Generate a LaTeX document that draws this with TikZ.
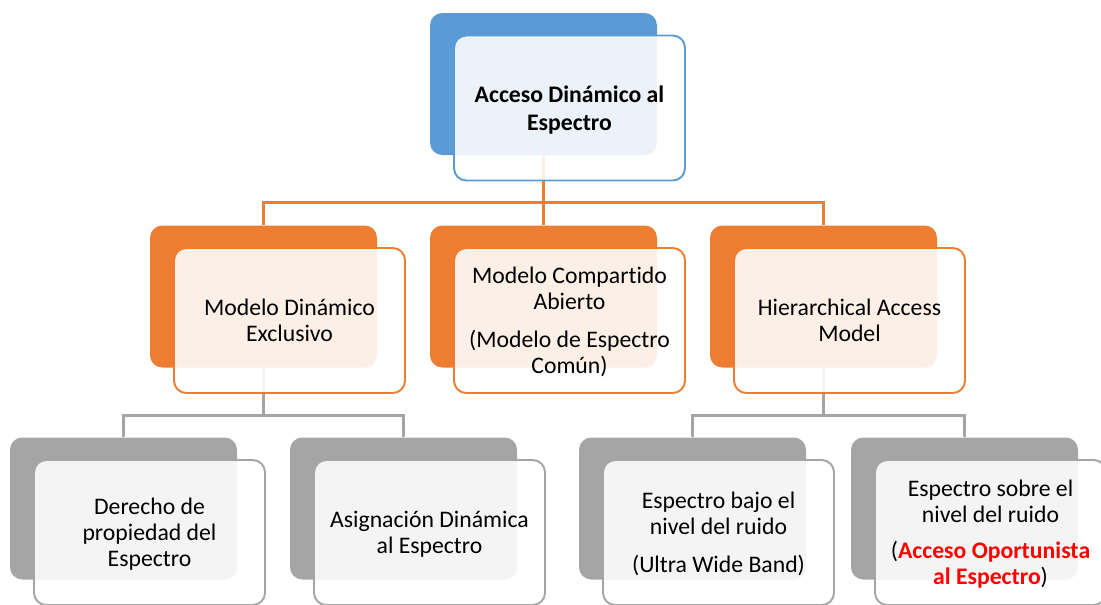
\documentclass[tikz,border=0pt]{standalone}
\usepackage{fontspec}
\setmainfont{Carlito}[Ligatures=NoCommon]
\usetikzlibrary{positioning}

\definecolor{accblue}{HTML}{5B9BD5}
\definecolor{accorange}{HTML}{ED7D31}
\definecolor{accgray}{HTML}{A5A5A5}
\definecolor{hlred}{HTML}{FF0000}

\begin{document}
\begin{tikzpicture}[
    % Back (coloured) box style
    backbox/.style={
        rectangle,
        rounded corners=7pt,
        minimum width=4.54cm,
        minimum height=2.84cm,
        inner sep=0pt
    },
    % Front (text) box style
    frontbox/.style={
        rectangle,
        rounded corners=7pt,
        line width=1.1pt,
        fill=white,
        fill opacity=0.88,
        text opacity=1,
        minimum width=4.62cm,
        minimum height=2.9cm,
        inner sep=0pt,
        text depth=0pt,
        align=center,
        font=\fontsize{13.5}{14.8}\selectfont
    },
    % Connector style
    link/.style={
        line width=1.4pt
    },
    % Offset of the front box
    shifted/.style={
        shift={(0.52,-0.48)}
    }
]

\useasboundingbox (0,0) rectangle (22.02,12.08);
\clip (0,0) rectangle (22.02,12.08);

% === Level 0: root ===
\node[backbox, fill=accblue] (root) at (10.87, 10.40) {};

% === Level 1: models ===
\node[backbox, fill=accorange] (mde) at (5.27, 6.15) {};
\node[backbox, fill=accorange] (mca) at (10.87, 6.15) {};
\node[backbox, fill=accorange] (ham) at (16.47, 6.15) {};

% === Level 2: sub-models ===
\node[backbox, fill=accgray] (dpe) at (2.47, 1.91) {};
\node[backbox, fill=accgray] (ade) at (8.07, 1.91) {};
\node[backbox, fill=accgray] (ebr) at (13.85, 1.91) {};
\node[backbox, fill=accgray] (esr) at (19.29, 1.91) {};

% === Connectors ===
\draw[link, accorange] (root.south) -- ++(0,-0.94) -| (mde.north);
\draw[link, accorange] (root.south) -- ++(0,-0.94) -| (mca.north);
\draw[link, accorange] (root.south) -- ++(0,-0.94) -| (ham.north);

\draw[link, accgray] (mde.south) -- ++(0,-0.95) -| (dpe.north);
\draw[link, accgray] (mde.south) -- ++(0,-0.95) -| (ade.north);
\draw[link, accgray] (ham.south) -- ++(0,-0.95) -| (ebr.north);
\draw[link, accgray] (ham.south) -- ++(0,-0.95) -| (esr.north);

% === Front boxes with text ===
\node[frontbox, draw=accblue, font=\fontsize{13.5}{16}\selectfont\bfseries]
    (root-f) at ([shifted]root.center) {Acceso Dinámico al\\Espectro};

\node[frontbox, draw=accorange] (mde-f) at ([shifted]mde.center)
    {Modelo Dinámico\\Exclusivo};
\node[frontbox, draw=accorange] (mca-f) at ([shifted]mca.center)
    {Modelo Compartido\\Abierto\\[0.24cm](Modelo de Espectro\\Común)};
\node[frontbox, draw=accorange] (ham-f) at ([shifted]ham.center)
    {Hierarchical Access\\Model};

\node[frontbox, draw=accgray] (dpe-f) at ([shifted]dpe.center)
    {Derecho de\\propiedad del\\Espectro};
\node[frontbox, draw=accgray] (ade-f) at ([shifted]ade.center)
    {Asignación Dinámica\\al Espectro};
\node[frontbox, draw=accgray] (ebr-f) at ([shifted]ebr.center)
    {Espectro bajo el\\nivel del ruido\\[0.24cm](Ultra Wide Band)};
\node[frontbox, draw=accgray] (esr-f) at ([shifted]esr.center)
    {Espectro sobre el\\nivel del ruido\\[0.2cm](\textcolor{hlred}{\bfseries Acceso Oportunista}\\\textcolor{hlred}{\bfseries al Espectro})};

\end{tikzpicture}
\end{document}
